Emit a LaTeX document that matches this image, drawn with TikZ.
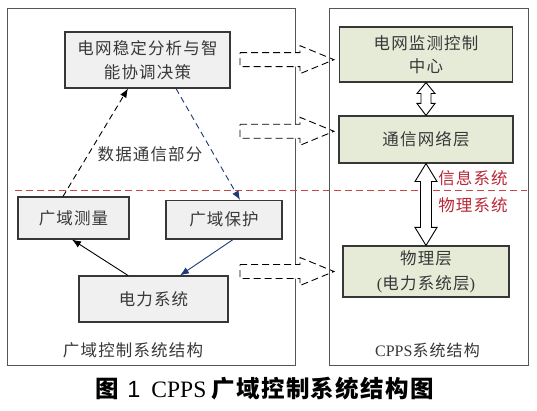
\documentclass[tikz,border=0pt]{standalone}
\usepackage{fontspec}
\setmainfont{Liberation Serif}
\newfontfamily\cjk{Noto Sans CJK SC}[LetterSpace=7]
\newfontfamily\cjkcap{Noto Sans CJK SC}[LetterSpace=6]
\newfontfamily\capsans{Liberation Sans}
\usetikzlibrary{arrows.meta,calc}
\definecolor{boxgray}{RGB}{240,240,240}
\definecolor{boxgreen}{RGB}{230,235,216}
\definecolor{navyc}{RGB}{31,56,120}
\definecolor{redline}{RGB}{205,70,70}
\definecolor{redtext}{RGB}{185,40,55}
\definecolor{edgec}{RGB}{55,55,55}
\definecolor{framec}{RGB}{85,85,85}
\newcommand\boxfont{\fontsize{16.5}{23.5}\selectfont\cjk}
\begin{document}
\begin{tikzpicture}[x=1pt,y=-1pt,
  frame/.style={draw=framec, line width=1pt, inner sep=0pt},
  graybox/.style={draw=edgec, line width=1.1pt, fill=boxgray, inner sep=0pt, align=center, font=\boxfont, text=black!78},
  greenbox/.style={draw=edgec, line width=1.1pt, fill=boxgreen, inner sep=0pt, align=center, font=\boxfont, text=black!78},
  lbl/.style={inner sep=0pt, font=\boxfont, text=black!78},
  redlbl/.style={inner sep=0pt, font=\boxfont, text=redtext},
  dasharrow/.style={draw=black, line width=0.9pt, dash pattern=on 6pt off 4pt, -{Latex[length=9pt,width=7pt]}},
  solidarrow/.style={draw=black, line width=0.9pt, -{Latex[length=9pt,width=7pt]}},
  hollowarrow/.style={draw=black, line width=0.9pt, fill=white, line join=miter},
  blockstyle/.style={draw=black, line width=0.9pt, dash pattern=on 7pt off 4pt, fill=white},
  reddash/.style={draw=redline, line width=0.9pt, dash pattern=on 7pt off 4pt},
  blockarrow/.pic={\draw[blockstyle] (0,-7) -- (60,-7) -- (60,-14) -- (94,0) -- (60,14) -- (60,7) -- (0,7) -- cycle;}
]
\useasboundingbox (0,0) rectangle (537,411);
\fill[white] (0,0) rectangle (537,411);

% left frame
\node[frame, minimum width=288pt, minimum height=356pt] (lframe) at (151,187) {};

% left boxes
\node[graybox, minimum width=165pt, minimum height=56pt] (dec) at (147.5,60) {电网稳定分析与智\\能协调决策};
\node[graybox, minimum width=111pt, minimum height=42pt] (meas) at (73.5,218) {广域测量};
\node[graybox, minimum width=116pt, minimum height=38.5pt] (prot) at (224,219.75) {广域保护};
\node[graybox, minimum width=149pt, minimum height=46pt] (power) at (153.5,299) {电力系统};
\node[lbl] (comm-lbl) at (150,154) {数据通信部分};
\node[lbl] (lcap) at (133,350) {广域控制系统结构};

% red separator
\coordinate (rl) at (15,190);
\coordinate (rr) at (527,190);
\draw[reddash] (rl) -- (rr);

% connectors
\draw[dasharrow] ([xshift=-10.5pt]meas.north) -- ([xshift=-19.5pt]dec.south);
\draw[dasharrow, draw=navyc] ([xshift=28.5pt]dec.south) -- ([xshift=16pt]prot.north);
\draw[solidarrow] ([xshift=-25.5pt]power.north) -- ([xshift=-1.5pt]meas.south);
\draw[solidarrow, draw=navyc] ([xshift=9pt]prot.south) -- ([xshift=26.5pt]power.north);

% dashed block arrows
\pic at (240,59.7) {blockarrow};
\pic at (240,131.3) {blockarrow};
\pic at (240,271.5) {blockarrow};

% right frame
\node[frame, minimum width=199pt, minimum height=356pt] (rframe) at (428.5,187) {};

% right boxes
\node[greenbox, minimum width=173pt, minimum height=55pt] (mon) at (426,54.5) {电网监测控制\\中心};
\node[greenbox, minimum width=174pt, minimum height=47pt] (net) at (426,139.5) {通信网络层};
\node[greenbox, minimum width=166pt, minimum height=51pt] (phys) at (426,271.5) {物理层\\[1.5pt]{\rmfamily(}电力系统层{\rmfamily)}};

% hollow double arrows
\draw[hollowarrow] (mon.south) -- ($(mon.south)+(9,11)$) -- ($(mon.south)+(5,11)$)
  -- ($(net.north)+(5,-12)$) -- ($(net.north)+(9,-12)$) -- (net.north)
  -- ($(net.north)+(-9,-12)$) -- ($(net.north)+(-5,-12)$)
  -- ($(mon.south)+(-5,11)$) -- ($(mon.south)+(-9,11)$) -- cycle;
\draw[hollowarrow] (net.south) -- ($(net.south)+(11,18)$) -- ($(net.south)+(5.5,18)$)
  -- ($(phys.north)+(5.5,-18)$) -- ($(phys.north)+(11,-18)$) -- (phys.north)
  -- ($(phys.north)+(-11,-18)$) -- ($(phys.north)+(-5.5,-18)$)
  -- ($(net.south)+(-5.5,18)$) -- ($(net.south)+(-11,18)$) -- cycle;

\node[redlbl] (info) at (473,178) {信息系统};
\node[redlbl] (physsys) at (473,205.5) {物理系统};
\node[lbl, font=\fontsize{16}{18}\selectfont] (rcap) at (427.5,350) {CPPS{\cjk 系统结构}};

% caption
\node[inner sep=0pt, font=\fontsize{23.5}{26}\selectfont] (caption) at (265,389)
  {{\cjkcap\bfseries 图}\hspace{8pt}{\capsans 1}\hspace{11pt}CPPS\hspace{5pt}{\cjkcap\bfseries 广域控制系统结构图}};
\end{tikzpicture}
\end{document}
